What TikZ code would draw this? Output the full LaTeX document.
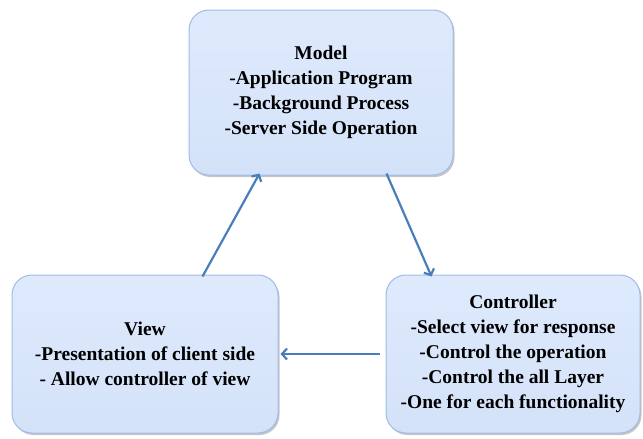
\documentclass[tikz,border=0pt]{standalone}
\usepackage{fontspec}
\setmainfont{Liberation Serif}
\usepackage{tikz}
\usetikzlibrary{arrows.meta,shadows}

\definecolor{boxfill}{RGB}{212,226,249}
\definecolor{boxtop}{RGB}{222,234,252}
\definecolor{boxline}{RGB}{160,188,230}
\definecolor{linkblue}{RGB}{74,126,187}

\tikzset{
  layer/.style={draw=boxline, line width=1pt, top color=boxtop, bottom color=boxfill,
    rounded corners=20pt, align=center, inner sep=0pt,
    font=\fontsize{19.5}{25}\selectfont\bfseries,
    drop shadow={shadow xshift=1.5pt, shadow yshift=-2pt, fill=black!45, opacity=.5}},
  link/.style={->, color=linkblue, line width=2.2pt}
}

\begin{document}
\begin{tikzpicture}[>={Straight Barb[length=5pt,width=11pt]},x=1pt,y=-1pt]
    \useasboundingbox (0,0) rectangle (643,439);

    \node[layer, minimum width=264pt, minimum height=165pt] (model) at (321,92.5)
      {Model\\-Application Program\\-Background Process\\-Server Side Operation};
    \node[layer, minimum width=266pt, minimum height=158pt] (view) at (145,354)
      {View\\-Presentation of client side\\- Allow controller of view};
    \node[layer, minimum width=254pt, minimum height=158pt] (ctrl) at (513,354)
      {Controller\\-Select view for response\\-Control the operation\\-Control the all Layer\\-One for each functionality};

    \path[link] ([xshift=191pt,yshift=-2pt]view.north west) edge ([xshift=71pt,yshift=2pt]model.south west)
                ([xshift=198pt,yshift=2pt]model.south west) edge ([xshift=46pt,yshift=-2pt]ctrl.north west)
                ([xshift=-6pt]ctrl.west) edge ([xshift=2pt]view.east);
\end{tikzpicture}
\end{document}
